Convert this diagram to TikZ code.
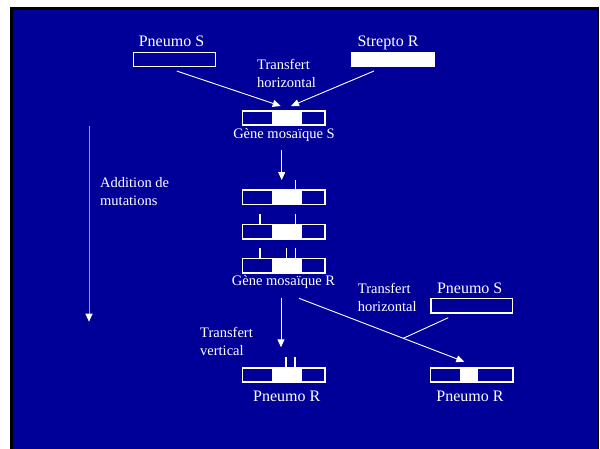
\documentclass[tikz,border=0pt]{standalone}
\usepackage{fontspec}
\setmainfont{Liberation Serif}
\usetikzlibrary{arrows.meta}
\definecolor{slideblue}{RGB}{0,0,153}
\definecolor{paleline}{RGB}{150,150,235}
\begin{document}
\begin{tikzpicture}[x=1pt,y=-1pt,
  lbl/.style={text=white,font=\fontsize{16}{19}\selectfont,inner sep=0pt},
  note/.style={text=white,font=\fontsize{14.5}{17.5}\selectfont,inner sep=0pt,align=left},
  plainbox/.style={draw=white,line width=1.5pt,minimum width=82.5pt,minimum height=14.3pt,inner sep=0pt},
  fullbox/.style={plainbox,fill=white},
  mosaic/.style 2 args={plainbox,path picture={\fill[white]
      ([xshift=#1pt]path picture bounding box.south west) rectangle
      ([xshift=#2pt]path picture bounding box.north west);}},
  flow/.style={white,line width=0.9pt,-{Triangle[length=8pt,width=7pt]}},
  plainline/.style={white,line width=0.9pt},
  tick/.style={white,line width=1.5pt},
]
% page and slide frame
\useasboundingbox (0,0) rectangle (600,448);
\fill[white] (0,0) rectangle (600,448);
\fill[black] (9.7,6.7) rectangle (599.3,460);
\fill[slideblue] (12.7,10) rectangle (597,460);

% donor genes
\node[lbl,anchor=base] (tps) at (171.5,46.7) {Pneumo S};
\node[lbl,anchor=base] (tsr) at (388,46.7) {Strepto R};
\node[plainbox,minimum width=81.8pt] (ps) at (174.4,59.5) {};
\node[fullbox,minimum width=83pt] (sr) at (393,59.5) {};
\node[note,anchor=base west] (th1) at (257,87) {Transfert\\horizontal};

% mosaic gene S
\node[mosaic={29.85}{59.25}] (gs) at (283.7,118) {};
\node[note,anchor=base] (tgs) at (284,138.3) {Gène mosaïque S};
\coordinate (a1s) at (176.7,71);
\coordinate (a1e) at (280.7,106);
\coordinate (a2s) at (374,71);
\coordinate (a2e) at (291,106);
\draw[flow] (a1s) -- (a1e);
\draw[flow] (a2s) -- (a2e);

% accumulation of mutations
\coordinate (d1s) at (281.7,150);
\coordinate (d1e) at (281.7,180);
\draw[flow] (d1s) -- (d1e);
\node[mosaic={29.85}{59.25}] (g1) at (283.7,197.3) {};
\node[mosaic={29.85}{59.25}] (g2) at (283.7,231.7) {};
\node[mosaic={29.85}{59.25}] (g3) at (283.7,265.8) {};
\draw[tick] ([xshift=12pt]g1.north) -- ++(0,-9.5);
\draw[tick] ([xshift=-23.7pt]g2.north) -- ++(0,-9.5);
\draw[tick] ([xshift=12pt]g2.north) -- ++(0,-9.5);
\draw[tick] ([xshift=-23.7pt]g3.north) -- ++(0,-10);
\draw[tick] ([xshift=3pt]g3.north) -- ++(0,-10);
\draw[tick] ([xshift=12pt]g3.north) -- ++(0,-10);
\node[note,anchor=base] (tgr) at (283.5,285.6) {Gène mosaïque R};

\coordinate (ms) at (89,126);
\coordinate (me) at (89,321.7);
\draw[paleline,line width=1pt,-{Triangle[length=8pt,width=7pt,color=white]}] (ms) -- (me);
\node[note,anchor=base west] (tadd) at (100,205) {Addition de\\mutations};

% vertical transfer
\coordinate (vs) at (281,298.3);
\coordinate (ve) at (281,347.3);
\draw[flow] (vs) -- (ve);
\node[note,anchor=base west] (tv) at (200,355) {Transfert\\vertical};
\node[mosaic={29.85}{59.25}] (pr1) at (283.7,375) {};
\draw[tick] ([xshift=2.5pt]pr1.north) -- ++(0,-10);
\draw[tick] ([xshift=11.5pt]pr1.north) -- ++(0,-10);
\node[lbl,anchor=base] (tpr1) at (286.8,401.5) {Pneumo R};

% horizontal transfer to a second pneumococcus
\node[note,anchor=base west] (th2) at (357.7,311) {Transfert\\horizontal};
\node[lbl,anchor=base] (tps2) at (469.7,293.5) {Pneumo S};
\node[plainbox,minimum width=81.8pt] (ps2) at (471.7,305.8) {};
\coordinate (hs) at (299,298.3);
\coordinate (he) at (464.3,361.7);
\coordinate (jn) at (403.3,338.3);
\coordinate (js) at (448.3,317.7);
\draw[flow] (hs) -- (he);
\draw[plainline] (js) -- (jn);
\node[mosaic={29.95}{47.55}] (pr2) at (471.7,375) {};
\node[lbl,anchor=base] (tpr2) at (470,401.5) {Pneumo R};
\end{tikzpicture}
\end{document}
